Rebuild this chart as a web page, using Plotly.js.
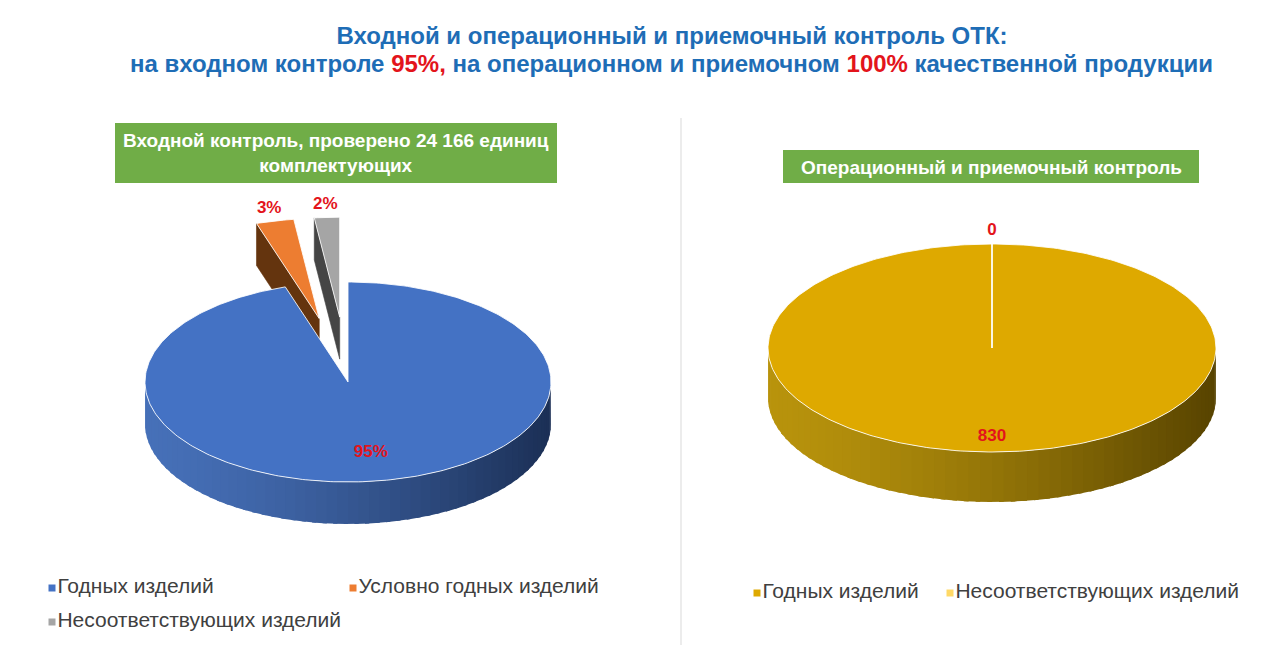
<!DOCTYPE html>
<html>
<head>
<meta charset="utf-8">
<script src="https://cdn.plot.ly/plotly-3.0.1.min.js"></script>
<style>
  html, body { margin: 0; padding: 0; background: #fff; }
  #chart { width: 1280px; height: 665px; }
</style>
</head>
<body>
<div id="chart"></div>
<script>
// входной контроль
const inCategories = ['Годных изделий', 'Условно годных изделий', 'Несоответствующих изделий'];
const inValues = [95, 3, 2];
const inTitle = 'Входной контроль, проверено 24 166 единиц<br>комплектующих';

// операционный и приемочный контроль
const opCategories = ['Годных изделий', 'Несоответствующих изделий'];
const opValues = [830, 0];
const opTitle = 'Операционный и приемочный контроль';

const titleLine1 = 'Входной и операционный и приемочный контроль ОТК:';
const titleLine2 = "на входном контроле <span style='color:#E3141B'>95%,</span> на операционном и приемочном " +
    "<span style='color:#E3141B'>100%</span> качественной продукции";

// geometry / look of the two 3d pies (screen px, y down)
const inStyle = {
    cx: 348, cy: 382, rx: 203, ry: 100, depth: 42, inR: 0.72,
    pull: [0, 0.65, 0.65],
    top: ['#4472C4', '#ED7D31', '#A5A5A5'],
    sideL: ['#4670B8', '#9A5520', '#7A7A7A'],
    sideR: ['#1B2F55', '#5A2D0A', '#333333'],
    cut: ['#2A4A85', '#64340E', '#454545'],
};
const opStyle = {
    cx: 992, cy: 348, rx: 224, ry: 104, depth: 50, inR: 0.85,
    pull: [0, 0],
    top: ['#DEA900', '#FFD966'],
    sideL: ['#B8930C', '#E0C060'],
    sideR: ['#574300', '#8A7530'],
    cut: ['#7A5E00', '#C0A040'],
};

const RED = '#E3141B';
const FONT = 'Liberation Sans, Arial, sans-serif';
const rad = (a) => a * Math.PI / 180;

const mix = (c1, c2, t) => {
    const p = (c) => [1, 3, 5].map((k) => parseInt(c.substr(k, 2), 16));
    const a = p(c1), b = p(c2);
    return 'rgb(' + a.map((v, k) => Math.round(v + (b[k] - v) * t)).join(',') + ')';
};

function poly(xs, ys, color, lineColor, lineWidth) {
    return {
        x: xs, y: ys, type: 'scatter', mode: 'lines', fill: 'toself',
        fillcolor: color,
        line: { color: lineColor || color, width: lineWidth === undefined ? 0.6 : lineWidth },
        hoverinfo: 'skip', showlegend: false,
    };
}

function pieTraces(values, st, labelFn) {
    const total = values.reduce((s, v) => s + v, 0);
    let acc = 0;
    const slices = values.map((v, i) => {
        const a0 = acc / total * 360;
        acc += v;
        const a1 = acc / total * 360;
        const mid = (a0 + a1) / 2;
        const k = st.pull[i] || 0;
        return {
            i, v, a0, a1, mid, k,
            ox: st.rx * k * Math.sin(rad(mid)),
            oy: -st.ry * k * Math.cos(rad(mid)),
        };
    });

    const pt = (s, a, r, dz) => [
        st.cx + s.ox + st.rx * r * Math.sin(rad(a)),
        st.cy + s.oy - st.ry * r * Math.cos(rad(a)) + (dz || 0),
    ];

    const traces = [];
    const order = slices.filter((s) => s.k > 0).concat(slices.filter((s) => s.k === 0));

    order.forEach((s) => {
        const d = st.depth;
        const c = pt(s, 0, 0);
        // cut faces turned to the viewer
        [[s.a0, Math.sin(rad(s.a0)) < -1e-6], [s.a1, Math.sin(rad(s.a1)) > 1e-6]].forEach(([a, vis]) => {
            if (!vis || s.a1 - s.a0 < 1e-6) return;
            const r = pt(s, a, 1);
            traces.push(poly([c[0], r[0], r[0], c[0], c[0]], [c[1], r[1], r[1] + d, c[1] + d, c[1]], st.cut[s.i]));
        });
        // front wall, in overlapping strips for the shading
        const lo = Math.max(s.a0, 90), hi = Math.min(s.a1, 270);
        if (hi > lo) {
            const n = Math.ceil((hi - lo) / 3);
            for (let j = 0; j < n; j++) {
                const b0 = lo + (hi - lo) * j / n;
                const b1 = Math.min(hi, lo + (hi - lo) * (j + 1) / n + 1.2);
                const xs = [], ys = [];
                for (let q = 0; q <= 4; q++) {
                    const p = pt(s, b0 + (b1 - b0) * q / 4, 1);
                    xs.push(p[0]); ys.push(p[1]);
                }
                for (let q = 4; q >= 0; q--) {
                    const p = pt(s, b0 + (b1 - b0) * q / 4, 1, d);
                    xs.push(p[0]); ys.push(p[1]);
                }
                xs.push(xs[0]); ys.push(ys[0]);
                const t = Math.pow((Math.sin(rad(lo + (hi - lo) * (j + 0.5) / n)) + 1) / 2, 1.4);
                traces.push(poly(xs, ys, mix(st.sideL[s.i], st.sideR[s.i], t), null, 0));
            }
        }
        // top face
        const xs = [c[0]], ys = [c[1]];
        const steps = Math.max(1, Math.ceil(s.a1 - s.a0));
        for (let q = 0; q <= steps; q++) {
            const p = pt(s, s.a0 + (s.a1 - s.a0) * q / steps, 1);
            xs.push(p[0]); ys.push(p[1]);
        }
        xs.push(c[0]); ys.push(c[1]);
        traces.push(poly(xs, ys, st.top[s.i], 'rgba(255,255,255,0.85)', 1));
    });

    // data labels
    const lx = [], ly = [], lt = [];
    slices.forEach((s) => {
        const small = (s.v / total) < 0.1;
        const p = pt(s, s.mid, small ? 1.13 : st.inR);
        lx.push(p[0]); ly.push(p[1]); lt.push(labelFn(s.v, total));
    });
    traces.push({
        x: lx, y: ly, text: lt, type: 'scatter', mode: 'text',
        textfont: { family: FONT, size: 17, color: RED, weight: 'bold' },
        hoverinfo: 'skip', showlegend: false,
    });
    return traces;
}

function legendTrace(names, colors, xs, ys) {
    return {
        x: xs, y: ys, text: names, type: 'scatter', mode: 'markers+text',
        textposition: 'middle right',
        marker: { symbol: 'square', size: 7, color: colors },
        textfont: { family: FONT, size: 21, color: '#404040' },
        hoverinfo: 'skip', showlegend: false,
    };
}

const data = []
    .concat(pieTraces(inValues, inStyle, (v, t) => Math.round(v / t * 100) + '%'))
    .concat(pieTraces(opValues, opStyle, (v) => String(v)))
    .concat([
        legendTrace(inCategories, inStyle.top, [52, 353, 52], [588, 588, 622]),
        legendTrace(opCategories, opStyle.top, [757, 950], [593, 593]),
    ]);

const layout = {
    width: 1280, height: 665,
    margin: { l: 0, r: 0, t: 0, b: 0 },
    paper_bgcolor: '#fff', plot_bgcolor: '#fff',
    showlegend: false, hovermode: false,
    title: {
        text: '<b>' + titleLine1 + '</b>',
        x: 0.525, xanchor: 'center',
        y: 1 - 36 / 665, yanchor: 'middle', yref: 'container',
        font: { family: FONT, size: 24, color: '#1E6DB6' },
    },
    xaxis: { range: [0, 1280], visible: false, fixedrange: true },
    yaxis: { range: [665, 0], visible: false, fixedrange: true },
    shapes: [
        { type: 'line', xref: 'x', yref: 'y', x0: 681, x1: 681, y0: 118, y1: 645, line: { color: '#D9D9D9', width: 1 } },
        { type: 'rect', xref: 'x', yref: 'y', x0: 115, x1: 557, y0: 123, y1: 183, fillcolor: '#70AD47', line: { width: 0 }, layer: 'below' },
        { type: 'rect', xref: 'x', yref: 'y', x0: 783, x1: 1199, y0: 150, y1: 183, fillcolor: '#70AD47', line: { width: 0 }, layer: 'below' },
    ],
    annotations: [
        { x: 671, y: 63, xref: 'x', yref: 'y', text: '<b>' + titleLine2 + '</b>', showarrow: false,
          font: { family: FONT, size: 24, color: '#1E6DB6' } },
        { x: 336, y: 153, xref: 'x', yref: 'y', text: '<b>' + inTitle + '</b>', showarrow: false,
          font: { family: FONT, size: 19, color: '#fff' } },
        { x: 991, y: 167, xref: 'x', yref: 'y', text: '<b>' + opTitle + '</b>', showarrow: false,
          font: { family: FONT, size: 19, color: '#fff' } },
    ],
};

Plotly.newPlot('chart', data, layout, { displayModeBar: false, staticPlot: true });
</script>
</body>
</html>
